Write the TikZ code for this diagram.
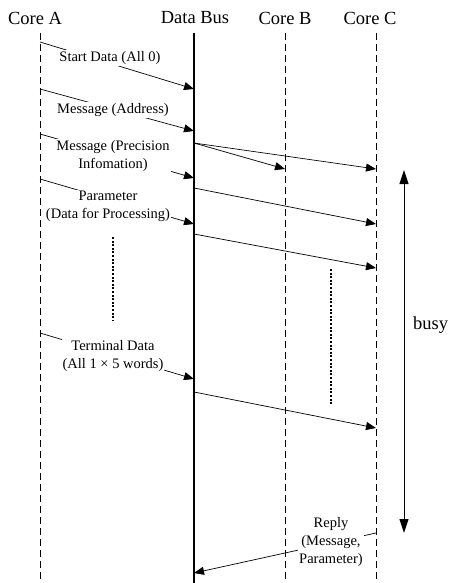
\documentclass[tikz,border=0pt]{standalone}
\usepackage{fontspec}
\setmainfont{Liberation Serif}
\usetikzlibrary{arrows.meta}
\begin{document}
\begin{tikzpicture}[x=1pt,y=-1pt,
 title/.style={font=\fontsize{18.5}{22}\selectfont, inner sep=0pt},
 lbl/.style={font=\fontsize{14.5}{18}\selectfont, fill=white, inner sep=1pt, align=center},
 life/.style={dash pattern=on 7pt off 4pt, line width=0.9pt},
 bus/.style={line width=2pt},
 msg/.style={line width=0.7pt, -{Triangle[length=10pt,width=8pt]}},
 dotline/.style={line width=1.6pt, dash pattern=on 2pt off 1.6pt}]
\useasboundingbox (0,0) rectangle (448,583);
% titles
\node[title] (tA) at (35,18) {Core A};
\node[title] (tBus) at (195,18) {Data Bus};
\node[title] (tB) at (285,18) {Core B};
\node[title] (tC) at (370,18) {Core C};
% lifelines
\coordinate (A0) at (40,33);  \coordinate (A1) at (40,583);
\coordinate (D0) at (194,33); \coordinate (D1) at (194,583);
\coordinate (B0) at (285,33); \coordinate (B1) at (285,583);
\coordinate (C0) at (376,33); \coordinate (C1) at (376,583);
\draw[life] (A0) -- (A1);
\draw[bus] (D0) -- (D1);
\draw[life] (B0) -- (B1);
\draw[life] (C0) -- (C1);
% message end points
\coordinate (m1s) at (40,42);   \coordinate (m1e) at (194,89);
\coordinate (m2s) at (40,89);   \coordinate (m2e) at (194,131);
\coordinate (m3s) at (40,134);  \coordinate (m3e) at (194,178);
\coordinate (m4s) at (194,143); \coordinate (m4b) at (285,169); \coordinate (m4c) at (376,169);
\coordinate (m5s) at (40,179);  \coordinate (m5e) at (194,224);
\coordinate (m6s) at (194,188); \coordinate (m6e) at (376,224);
\coordinate (m7s) at (194,234); \coordinate (m7e) at (376,268);
\coordinate (m8s) at (40,333);  \coordinate (m8e) at (194,379);
\coordinate (m9s) at (194,392); \coordinate (m9e) at (376,428);
\coordinate (m10s) at (376,533); \coordinate (m10e) at (194,573);
\draw[msg] (m1s) -- (m1e);
\draw[msg] (m2s) -- (m2e);
\draw[msg] (m3s) -- (m3e);
\draw[msg] (m4s) -- (m4b);
\draw[msg] (m4s) -- (m4c);
\draw[msg] (m5s) -- (m5e);
\draw[msg] (m6s) -- (m6e);
\draw[msg] (m7s) -- (m7e);
\draw[msg] (m8s) -- (m8e);
\draw[msg] (m9s) -- (m9e);
\draw[msg] (m10s) -- (m10e);
% labels
\node[lbl] (l1) at (110,58) {Start Data (All 0)};
\node[lbl] (l2) at (113,110) {Message (Address)};
\node[lbl] (l3) at (113,156) {Message (Precision\\Infomation)};
\node[lbl] (l5) at (108,206) {Parameter\\(Data for Processing)};
\node[lbl] (l8) at (113,356) {Terminal Data\\(All 1 × 5 words)};
\node[lbl] (l10) at (331,542) {Reply\\(Message,\\Parameter)};
% dotted continuation marks
\coordinate (d1s) at (113,237); \coordinate (d1e) at (113,321);
\coordinate (d2s) at (331,269); \coordinate (d2e) at (331,405);
\draw[dotline] (d1s) -- (d1e);
\draw[dotline] (d2s) -- (d2e);
% busy
\coordinate (bt) at (404,170); \coordinate (bb) at (404,533);
\draw[line width=1pt, {Triangle[length=14pt,width=9pt]}-{Triangle[length=14pt,width=9pt]}] (bt) -- (bb);
\node[title, anchor=west] (busy) at (413,325) {busy};
\end{tikzpicture}
\end{document}
